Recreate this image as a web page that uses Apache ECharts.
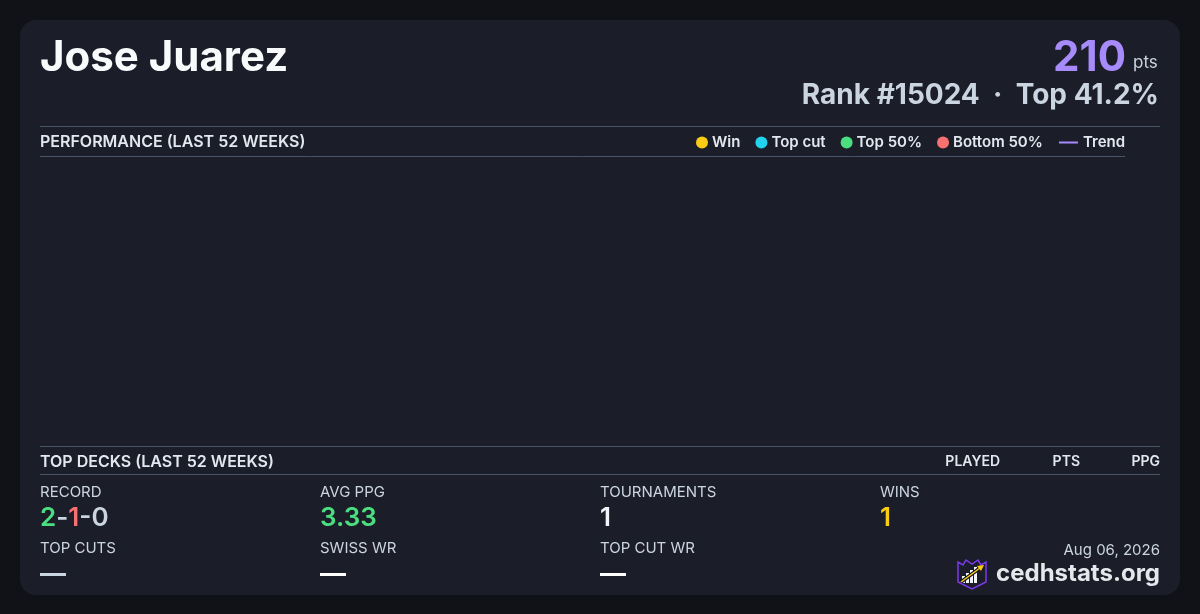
<!DOCTYPE html>
<html>
<head>
<meta charset="utf-8">
<script src="https://cdn.jsdelivr.net/npm/echarts@6/dist/echarts.min.js"></script>
<style>
html,body{margin:0;padding:0;background:#111217;}
#chart{width:1200px;height:614px;}
</style>
</head>
<body>
<div id="chart"></div>
<script>
// ---- data ----
const playerName = 'Jose Juarez';
const points = 210;
const rankText = 'Rank #15024  ·  Top 41.2%';
const weeks = [];            // no events plotted in the last 52 weeks window
const winData = [];
const topCutData = [];
const top50Data = [];
const bottom50Data = [];
const trendData = [];
const legendNames = ['Win', 'Top cut', 'Top 50%', 'Bottom 50%'];
const legendColors = ['#facc15', '#22d3ee', '#4ade80', '#f87171'];
const deckColumns = ['PLAYED', 'PTS', 'PPG'];
const statLabels = ['RECORD', 'AVG PPG', 'TOURNAMENTS', 'WINS'];
const statLabels2 = ['TOP CUTS', 'SWISS WR', 'TOP CUT WR'];
const recordWLD = [2, 1, 0];
const avgPPG = '3.33';
const tournaments = 1;
const wins = 1;
const dateText = 'Aug 06, 2026';

const FONT = 'Inter, "Noto Sans", sans-serif';
const chart = echarts.init(document.getElementById('chart'), null, {renderer: 'canvas'});

const colX = [40, 320, 600, 880];
const graphics = [];
// card
graphics.push({type: 'rect', shape: {x: 20, y: 20, width: 1160, height: 575, r: 16}, style: {fill: '#1b1d28'}, z: -10, silent: true});
// title
graphics.push({type: 'text', x: 40, y: 58, style: {text: playerName, fill: '#f8fafc', font: 'bold 42px ' + FONT, textVerticalAlign: 'middle'}});
// points
graphics.push({type: 'text', x: 1126, y: 58, style: {text: String(points), fill: '#a78bfa', font: 'bold 42px ' + FONT, textAlign: 'right', textVerticalAlign: 'middle'}});
graphics.push({type: 'text', x: 1133, y: 63, style: {text: 'pts', fill: '#cbd5e1', font: '17px ' + FONT, textAlign: 'left', textVerticalAlign: 'middle'}});
graphics.push({type: 'text', x: 1159, y: 96, style: {text: rankText, fill: '#cbd5e1', font: 'bold 28px ' + FONT, textAlign: 'right', textVerticalAlign: 'middle'}});
// section lines
const lineStyle = {stroke: '#475569', lineWidth: 1};
graphics.push({type: 'line', shape: {x1: 40, y1: 126.5, x2: 1160, y2: 126.5}, style: lineStyle});
graphics.push({type: 'line', shape: {x1: 40, y1: 156.5, x2: 1125, y2: 156.5}, style: lineStyle});
graphics.push({type: 'line', shape: {x1: 40, y1: 446.5, x2: 1160, y2: 446.5}, style: lineStyle});
graphics.push({type: 'line', shape: {x1: 40, y1: 474.5, x2: 1160, y2: 474.5}, style: lineStyle});
graphics.push({type: 'text', x: 40, y: 142, style: {text: 'PERFORMANCE (LAST 52 WEEKS)', fill: '#e2e8f0', font: '600 16px ' + FONT, textVerticalAlign: 'middle'}});
graphics.push({type: 'text', x: 40, y: 462, style: {text: 'TOP DECKS (LAST 52 WEEKS)', fill: '#e2e8f0', font: '600 16px ' + FONT, textVerticalAlign: 'middle'}});
const deckColRight = [1000, 1080, 1160];
deckColumns.forEach((c, i) => {
  graphics.push({type: 'text', x: deckColRight[i], y: 462, style: {text: c, fill: '#e2e8f0', font: '600 14px ' + FONT, textAlign: 'right', textVerticalAlign: 'middle'}});
});
// stats row 1
statLabels.forEach((l, i) => {
  graphics.push({type: 'text', x: colX[i], y: 492, style: {text: l, fill: '#cbd5e1', font: '15px ' + FONT, textVerticalAlign: 'middle'}});
});
const valFont = '600 26px ' + FONT;
graphics.push({type: 'text', x: 40, y: 518, style: {
  text: '{w|' + recordWLD[0] + '}{g|-}{l|' + recordWLD[1] + '}{g|-' + recordWLD[2] + '}',
  font: valFont, textVerticalAlign: 'middle',
  rich: {w: {fill: '#4ade80', font: valFont}, l: {fill: '#f87171', font: valFont}, g: {fill: '#cbd5e1', font: valFont}}
}});
graphics.push({type: 'text', x: 320, y: 518, style: {text: avgPPG, fill: '#4ade80', font: valFont, textVerticalAlign: 'middle'}});
graphics.push({type: 'text', x: 600, y: 518, style: {text: String(tournaments), fill: '#f1f5f9', font: valFont, textVerticalAlign: 'middle'}});
graphics.push({type: 'text', x: 880, y: 518, style: {text: String(wins), fill: '#facc15', font: valFont, textVerticalAlign: 'middle'}});
// stats row 2
statLabels2.forEach((l, i) => {
  graphics.push({type: 'text', x: colX[i], y: 548, style: {text: l, fill: '#cbd5e1', font: '15px ' + FONT, textVerticalAlign: 'middle'}});
});
const dashColors = ['#cbd5e1', '#ffffff', '#ffffff'];
statLabels2.forEach((l, i) => {
  graphics.push({type: 'rect', shape: {x: colX[i], y: 573, width: 26, height: 3}, style: {fill: dashColors[i]}});
});
// footer
graphics.push({type: 'text', x: 1160, y: 550, style: {text: dateText, fill: '#cbd5e1', font: '15px ' + FONT, textAlign: 'right', textVerticalAlign: 'middle'}});
graphics.push({type: 'text', x: 1160, y: 574, style: {text: 'cedhstats.org', fill: '#e5e7eb', font: 'bold 24px ' + FONT, textAlign: 'right', textVerticalAlign: 'middle'}});
// logo
graphics.push({type: 'polygon', shape: {points: [[958,566],[958,562],[963,565],[966,560],[972,564],[978,560],[981,565],[986,562],[986,582],[972,589],[958,582]]}, style: {fill: 'none', stroke: '#7c3aed', lineWidth: 1.5}});
[[962,576,3,7],[966,573,3,10],[970,570,3,13],[974,567,3,16]].forEach(r => {
  graphics.push({type: 'rect', shape: {x: r[0], y: r[1], width: r[2], height: r[3]}, style: {fill: '#f1f5f9'}});
});
graphics.push({type: 'line', shape: {x1: 961, y1: 582, x2: 980, y2: 568}, style: {stroke: '#111217', lineWidth: 3.5}});
graphics.push({type: 'line', shape: {x1: 961, y1: 582, x2: 980, y2: 568}, style: {stroke: '#facc15', lineWidth: 1.5}});
graphics.push({type: 'polygon', shape: {points: [[984,565],[977,566],[981,571]]}, style: {fill: '#facc15'}});

const scatterSeries = legendNames.map((n, i) => ({
  name: n, type: 'scatter', data: [winData, topCutData, top50Data, bottom50Data][i],
  itemStyle: {color: legendColors[i], opacity: 1}, symbolSize: 10
}));

chart.setOption({
  backgroundColor: '#111217',
  animation: false,
  textStyle: {fontFamily: FONT},
  grid: {left: 40, right: 75, top: 165, bottom: 175},
  xAxis: {type: 'category', data: weeks, show: false},
  yAxis: {type: 'value', show: false},
  legend: [
    {
      data: legendNames.map((n, i) => ({name: n, itemStyle: {color: legendColors[i], opacity: 1}})),
      left: 696, top: 135, itemWidth: 12, itemHeight: 12, itemGap: 15,
      icon: 'circle', padding: 0, selectedMode: false,
      textStyle: {color: '#e2e8f0', fontSize: 15, fontWeight: 600, fontFamily: FONT, padding: [0, 0, 0, -1]}
    },
    {
      data: ['Trend'], left: 1059, top: 135, itemWidth: 19, itemHeight: 2, padding: 0,
      icon: 'rect', selectedMode: false,
      textStyle: {color: '#e2e8f0', fontSize: 15, fontWeight: 600, fontFamily: FONT}
    }
  ],
  series: scatterSeries.concat([{
    name: 'Trend', type: 'line', data: trendData, showSymbol: false,
    lineStyle: {color: '#a78bfa', width: 2}, itemStyle: {color: '#a78bfa'}
  }]),
  graphic: graphics
});
</script>
</body>
</html>
